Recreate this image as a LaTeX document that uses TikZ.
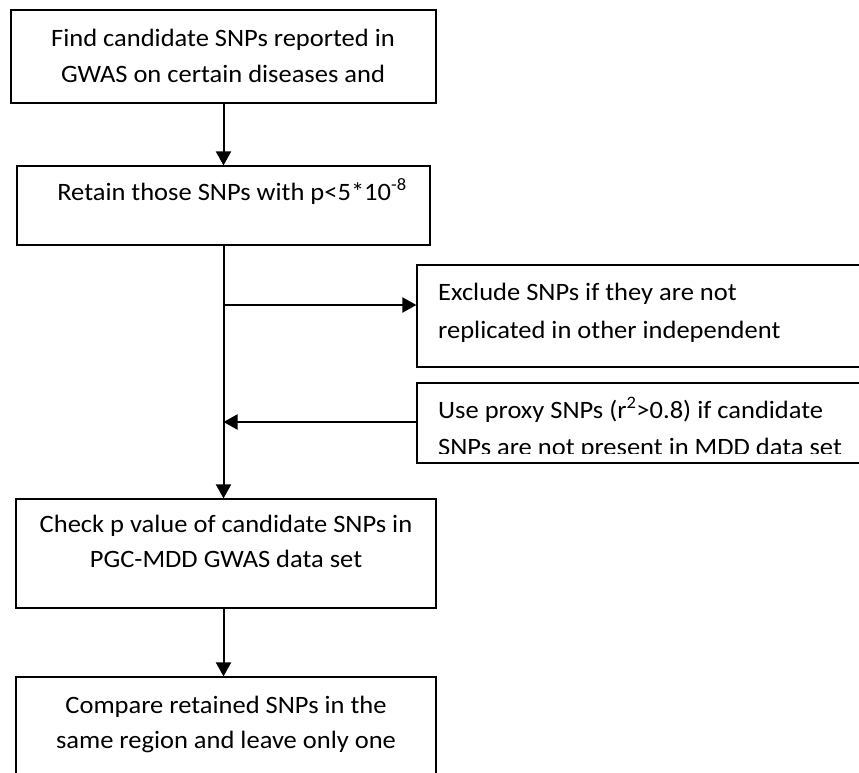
\documentclass[tikz,border=0pt]{standalone}
\usepackage{fontspec}
\setmainfont{Carlito}[FakeStretch=1.06]
\usetikzlibrary{arrows.meta}
\begin{document}
\begin{tikzpicture}[x=1pt,y=-1pt,
  box/.style={draw=black,line width=1.2pt,rectangle,inner sep=0pt},
  txt/.style={inner sep=0pt,anchor=base,font=\fontsize{25}{30}\selectfont},
  ltxt/.style={txt,anchor=base west},
  conn/.style={line width=2pt,-{Triangle[length=14pt,width=15pt]}}]
\clip (0,0) rectangle (859,773);
\fill[white] (0,0) rectangle (859,773);
% boxes
\node[box,minimum width=425pt,minimum height=93pt] (b1) at (223.5,56.5) {};
\node[box,minimum width=413pt,minimum height=79pt] (b2) at (223.5,205.5) {};
\node[box,minimum width=420pt,minimum height=109pt] (b3) at (226,553.5) {};
\node[box,minimum width=420pt,minimum height=123pt] (b4) at (226,738.5) {};
\node[box,minimum width=483pt,minimum height=102pt] (b5) at (658.5,316) {};
\node[box,minimum width=483pt,minimum height=80pt] (b6) at (658.5,423) {};
% texts
\node[txt] (t1a) at (223,47) {Find candidate SNPs reported in};
\node[txt] (t1b) at (223,83) {GWAS on certain diseases and};
\node[txt] (t2) at (232,200) {Retain those SNPs with p<5*10\textsuperscript{-8}};
\node[txt] (t3a) at (226,532) {Check p value of candidate SNPs in};
\node[txt] (t3b) at (226,567) {PGC-MDD GWAS data set};
\node[txt] (t4a) at (226,713) {Compare retained SNPs in the};
\node[txt] (t4b) at (226,748) {same region and leave only one};
\node[ltxt] (t5a) at (438,300) {Exclude SNPs if they are not};
\node[ltxt] (t5b) at (438,338) {replicated in other independent};
\begin{scope}
\clip (418,384) rectangle (859,453);
\node[ltxt] (t6a) at (438,418) {Use proxy SNPs (r\textsuperscript{2}>0.8) if candidate};
\node[ltxt] (t6b) at (438,455) {SNPs are not present in MDD data set};
\end{scope}
% connectors
\coordinate (j1) at (223.5,305);
\coordinate (j2) at (223.5,422);
\draw[conn] (b1.south) -- (b1.south |- b2.north);
\draw[conn] (b2.south) -- (b2.south |- b3.north);
\draw[conn] (j1) -- (b5.west |- j1);
\draw[conn] (b6.west |- j2) -- (j2);
\draw[conn] (b3.south -| b2.south) -- (b2.south |- b4.north);
\end{tikzpicture}
\end{document}
